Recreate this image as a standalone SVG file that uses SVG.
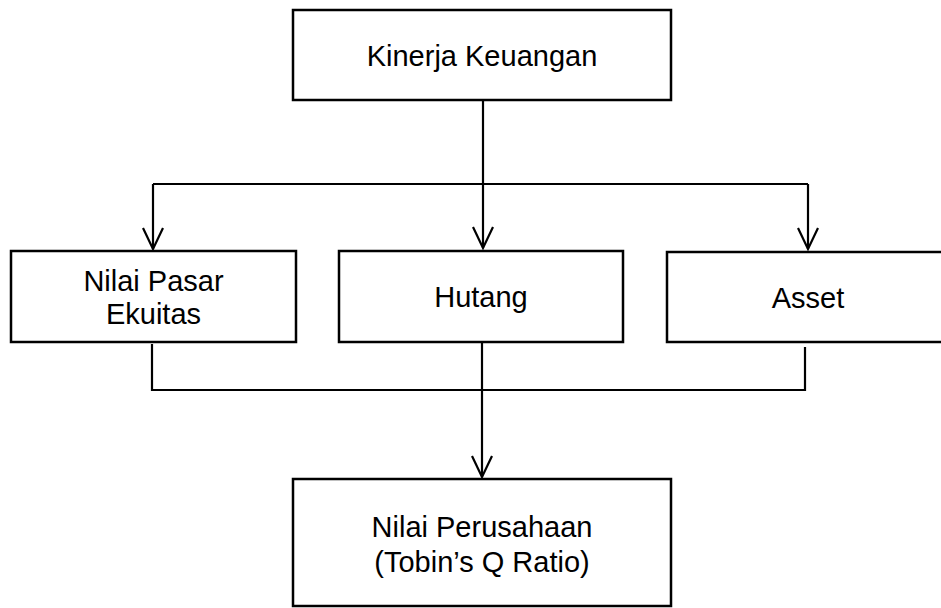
<svg xmlns="http://www.w3.org/2000/svg" width="941" height="608" viewBox="0 0 941 608">
<style>
.box{fill:#fff;stroke:#000;stroke-width:2.5}
.ln{fill:none;stroke:#000;stroke-width:2.2}
.t{font-family:"Liberation Sans",Arial,sans-serif;font-size:29px;fill:#000;text-anchor:middle}
</style>
<defs>
<marker id="ah" markerUnits="userSpaceOnUse" markerWidth="26" markerHeight="24" refX="23" refY="11" orient="auto" viewBox="0 0 26 22">
<path d="M2,1 L23,11 L2,21" fill="none" stroke="#000" stroke-width="2.2"/>
</marker>
</defs>
<g id="connectors">
<path class="ln" d="M483,100 V248" marker-end="url(#ah)"/>
<path class="ln" d="M153,184 H808"/>
<path class="ln" d="M153,184 V249" marker-end="url(#ah)"/>
<path class="ln" d="M808,184 V249" marker-end="url(#ah)"/>
<path class="ln" d="M152,344 V390 H805 V347"/>
<path class="ln" d="M482,342 V477" marker-end="url(#ah)"/>
</g>
<g id="kinerja">
<rect class="box" x="293" y="10" width="378" height="90"/>
<text class="t" x="482" y="66">Kinerja Keuangan</text>
</g>
<g id="nilai-pasar">
<rect class="box" x="11" y="251" width="285" height="91"/>
<text class="t" x="153.5" y="291">Nilai Pasar</text>
<text class="t" x="153.5" y="324">Ekuitas</text>
</g>
<g id="hutang">
<rect class="box" x="339" y="251" width="284" height="91"/>
<text class="t" x="481" y="307">Hutang</text>
</g>
<g id="asset">
<rect class="box" x="667" y="252" width="285" height="90"/>
<text class="t" x="808" y="308">Asset</text>
</g>
<g id="nilai-perusahaan">
<rect class="box" x="293" y="479" width="378" height="127"/>
<text class="t" x="482" y="537">Nilai Perusahaan</text>
<text class="t" x="482" y="572">(Tobin’s Q Ratio)</text>
</g>
</svg>
